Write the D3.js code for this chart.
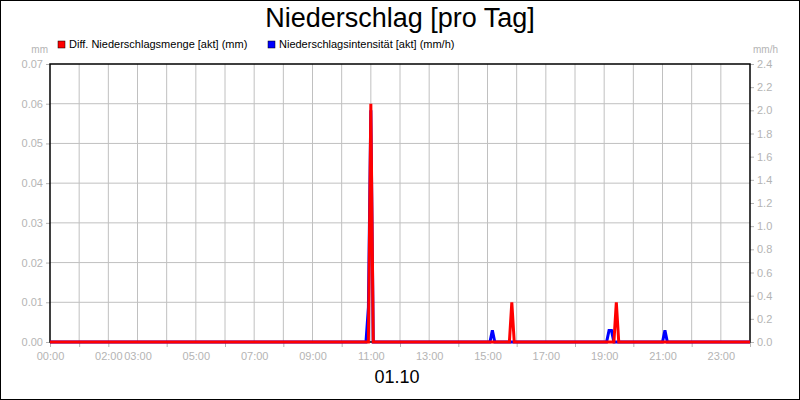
<!DOCTYPE html>
<html>
<head>
<meta charset="utf-8">
<script src="https://cdn.jsdelivr.net/npm/d3@7"></script>
<style>
  body { margin: 0; background: #fff; }
  text { font-family: "Liberation Sans", Arial, sans-serif; }
</style>
</head>
<body>
<svg id="mainsvg" width="800" height="400"></svg>
<script>
// Diff. Niederschlagsmenge [akt] (mm)
const mengeTimes = ['00:00', '10:55', '11:00', '11:05', '15:45', '15:50', '15:55', '19:20', '19:25', '19:30', '24:00'];
const mengeValues = [0, 0, 0.06, 0, 0, 0.01, 0, 0, 0.01, 0, 0];
// Niederschlagsintensität [akt] (mm/h)
const intensTimes = ['00:00', '10:50', '10:55', '11:00', '11:05', '15:05', '15:10', '15:15', '19:05', '19:10', '19:15', '19:20', '21:00', '21:05', '21:10', '24:00'];
const intensValues = [0, 0, 0.3, 2.0, 0, 0, 0.1, 0, 0, 0.1, 0.1, 0, 0, 0.1, 0, 0];

const xTickMarks = ['00:00', '01:00', '02:00', '04:00', '06:00', '08:00', '10:00', '12:00', '14:00', '16:00', '18:00', '20:00', '22:00', '24:00'];
const xTickLabels = ['00:00', '02:00', '03:00', '05:00', '07:00', '09:00', '11:00', '13:00', '15:00', '17:00', '19:00', '21:00', '23:00'];
const leftTicks = [0, 0.01, 0.02, 0.03, 0.04, 0.05, 0.06, 0.07];
const rightTicks = [0, 0.2, 0.4, 0.6, 0.8, 1.0, 1.2, 1.4, 1.6, 1.8, 2.0, 2.2, 2.4];

function demo() {
    const svg = d3.select('#mainsvg');
    const width = +svg.attr('width');
    const height = +svg.attr('height');
    const margin = { top: 64, bottom: 58, left: 50, right: 50 };
    const innerWidth = width - margin.left - margin.right;
    const innerHeight = height - margin.top - margin.bottom;
    const grey = '#b4b4b4';

    const hours = s => { const p = s.split(':'); return +p[0] + p[1] / 60; };

    // outer border
    svg.append('rect').attr('x', 0.5).attr('y', 0.5)
        .attr('width', width - 1).attr('height', height - 1)
        .attr('fill', 'white').attr('stroke', 'black');

    svg.append('text').attr('x', width / 2).attr('y', 27)
        .attr('text-anchor', 'middle').attr('font-size', '27px')
        .text('Niederschlag [pro Tag]');

    const g = svg.append('g').attr('transform', `translate(${margin.left},${margin.top})`);

    const x = d3.scaleLinear().domain([0, 24]).range([0, innerWidth]);
    const yL = d3.scaleLinear().domain([0, 0.07]).range([innerHeight, 0]);
    const yR = d3.scaleLinear().domain([0, 2.4]).range([innerHeight, 0]);

    // grid
    g.selectAll('.vgrid').data(d3.range(1, 24)).enter().append('line')
        .attr('x1', d => x(d)).attr('x2', d => x(d))
        .attr('y1', 0).attr('y2', innerHeight)
        .attr('stroke', '#c0c0c0');
    g.selectAll('.hgrid').data(leftTicks.slice(1, -1)).enter().append('line')
        .attr('x1', 0).attr('x2', innerWidth)
        .attr('y1', d => yL(d)).attr('y2', d => yL(d))
        .attr('stroke', '#c0c0c0');

    // axes
    const styleAxis = sel => {
        sel.select('.domain').remove();
        sel.selectAll('line').attr('stroke', grey);
        sel.selectAll('text').attr('fill', grey).attr('font-size', '11px');
    };
    g.append('g').attr('transform', `translate(0,${innerHeight})`)
        .call(d3.axisBottom(x).tickValues(xTickMarks.map(hours)).tickSize(5).tickFormat(''))
        .call(styleAxis);
    g.append('g').attr('transform', `translate(0,${innerHeight})`)
        .call(d3.axisBottom(x).tickValues(xTickLabels.map(hours)).tickSize(0).tickPadding(10)
            .tickFormat((d, i) => xTickLabels[i]))
        .call(styleAxis);
    g.append('g')
        .call(d3.axisLeft(yL).tickValues(leftTicks).tickSize(4).tickPadding(3).tickFormat(d3.format('.2f')))
        .call(styleAxis);
    g.append('g').attr('transform', `translate(${innerWidth},0)`)
        .call(d3.axisRight(yR).tickValues(rightTicks).tickSize(4).tickPadding(3).tickFormat(d3.format('.1f')))
        .call(styleAxis);

    // frame
    g.append('rect').attr('width', innerWidth).attr('height', innerHeight)
        .attr('fill', 'none').attr('stroke', 'black').attr('stroke-width', 1.5);

    // series
    const blueLine = d3.line().x((d, i) => x(hours(intensTimes[i]))).y(d => yR(d));
    const redLine = d3.line().x((d, i) => x(hours(mengeTimes[i]))).y(d => yL(d));
    g.append('path').datum(intensValues).attr('d', blueLine)
        .attr('fill', 'none').attr('stroke', '#0000ff').attr('stroke-width', 3);
    g.append('path').datum(mengeValues).attr('d', redLine)
        .attr('fill', 'none').attr('stroke', '#ff0000').attr('stroke-width', 3);

    // unit labels
    svg.append('text').attr('x', 48).attr('y', 53).attr('text-anchor', 'end')
        .attr('fill', grey).attr('font-size', '10px').text('mm');
    svg.append('text').attr('x', 753).attr('y', 53)
        .attr('fill', grey).attr('font-size', '10px').text('mm/h');

    // legend
    const legend = [
        { name: 'Diff. Niederschlagsmenge [akt] (mm)', color: '#ff0000', x: 58 },
        { name: 'Niederschlagsintensität [akt] (mm/h)', color: '#0000ff', x: 268 }
    ];
    const lg = svg.selectAll('.legend').data(legend).enter().append('g')
        .attr('transform', d => `translate(${d.x},41)`);
    lg.append('rect').attr('width', 7).attr('height', 7)
        .attr('fill', d => d.color).attr('stroke', 'black').attr('stroke-width', 0.5);
    lg.append('text').attr('x', 11).attr('y', 7).attr('font-size', '11px')
        .text(d => d.name);

    svg.append('text').attr('x', 397).attr('y', 383)
        .attr('text-anchor', 'middle').attr('font-size', '18px').text('01.10');
}
demo();
</script>
</body>
</html>
